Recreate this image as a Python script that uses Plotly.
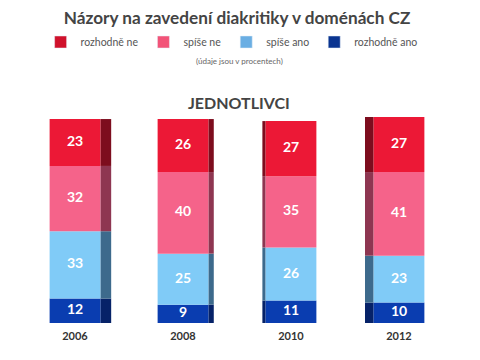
import plotly.graph_objects as go

years = ["2006", "2008", "2010", "2012"]
series_names = ["rozhodně ano", "spíše ano", "spíše ne", "rozhodně ne"]  # bottom -> top
rozhodne_ano = [12, 9, 11, 10]
spise_ano = [33, 25, 26, 23]
spise_ne = [32, 40, 35, 41]
rozhodne_ne = [23, 26, 27, 27]
values = [rozhodne_ano, spise_ano, spise_ne, rozhodne_ne]

front_colors = ["#0a3db0", "#80cbf7", "#f5638a", "#ec1836"]
side_colors = ["#062268", "#3d6a8c", "#8e3651", "#7d0d1e"]
legend_colors = ["#0a3490", "#6aaee3", "#f25378", "#d0112b"]

BAR_W = 0.47
side_w = [0.10, 0.05, 0.03, 0.08]
side_right = [True, True, False, False]

# page body has an 8px margin; compensate so the figure lands where the reference is
OFF = 8
H = 360

fig = go.Figure()

base = [0, 0, 0, 0]
bases = []
for v in values:
    bases.append(list(base))
    base = [b + x for b, x in zip(base, v)]

# side faces (pseudo 3D)
for i, v in enumerate(values):
    offs = [BAR_W / 2 if r else -BAR_W / 2 - w for r, w in zip(side_right, side_w)]
    fig.add_trace(go.Bar(
        x=years, y=v, base=bases[i], width=side_w, offset=offs,
        marker=dict(color=side_colors[i], line=dict(width=0)),
        showlegend=False, hoverinfo="skip",
    ))

# front faces
for i, v in enumerate(values):
    fig.add_trace(go.Bar(
        x=years, y=v, base=bases[i], width=BAR_W, name=series_names[i],
        marker=dict(color=front_colors[i], line=dict(width=0)),
        textposition="none", showlegend=False,
    ))

# value labels centred in each segment
for i, v in enumerate(values):
    fig.add_trace(go.Scatter(
        x=years, y=[b + x / 2 for b, x in zip(bases[i], v)], mode="text",
        text=[str(x) for x in v], textposition="middle center",
        textfont=dict(color="white", size=14, family="Lato, Open Sans, sans-serif", weight="bold"),
        showlegend=False, hoverinfo="skip",
    ))

# legend entries (order as in reference)
for i in [3, 2, 1, 0]:
    fig.add_trace(go.Bar(
        x=[None], y=[None], name=series_names[i],
        marker=dict(color=legend_colors[i]), showlegend=True,
    ))

fig.update_layout(
    width=480, height=H,
    barmode="overlay",
    paper_bgcolor="white", plot_bgcolor="white",
    margin=dict(l=21 - OFF, r=27 + OFF, t=117 - OFF, b=37 + OFF, autoexpand=False),
    font=dict(family="Lato, Open Sans, sans-serif", color="#555"),
    title=dict(text="<b>Názory na zavedení diakritiky v doménách CZ</b>",
               x=(237 - OFF) / 480, xanchor="center", yref="container",
               y=1 - 10 / H, yanchor="middle",
               font=dict(size=17.2, color="#444")),
    legend=dict(orientation="h", x=234 / 480, xanchor="center", yref="container",
                y=1 - (42 - OFF) / H, yanchor="middle",
                font=dict(size=10.5, color="#555"), traceorder="normal",
                itemwidth=30),
    xaxis=dict(type="category", range=[-0.5, 3.5], showgrid=False, zeroline=False, showline=False,
               ticks="", tickfont=dict(size=11, color="#333", family="Lato, sans-serif", weight="bold"),
               ticklabelstandoff=5),
    yaxis=dict(range=[0, 101], visible=False),
    showlegend=True,
    annotations=[
        dict(text="(údaje jsou v procentech)", xref="paper", yref="paper",
             x=0.5, y=1.0, xanchor="center", yanchor="middle", showarrow=False,
             font=dict(size=8, color="#666"), yshift=117 - 61, xshift=2),
        dict(text="<b>JEDNOTLIVCI</b>", xref="paper", yref="paper",
             x=0.5, y=1.0, xanchor="center", yanchor="middle", showarrow=False,
             font=dict(size=16, color="#444"), yshift=117 - 102, xshift=2),
    ],
)

fig.write_html("out.html")
